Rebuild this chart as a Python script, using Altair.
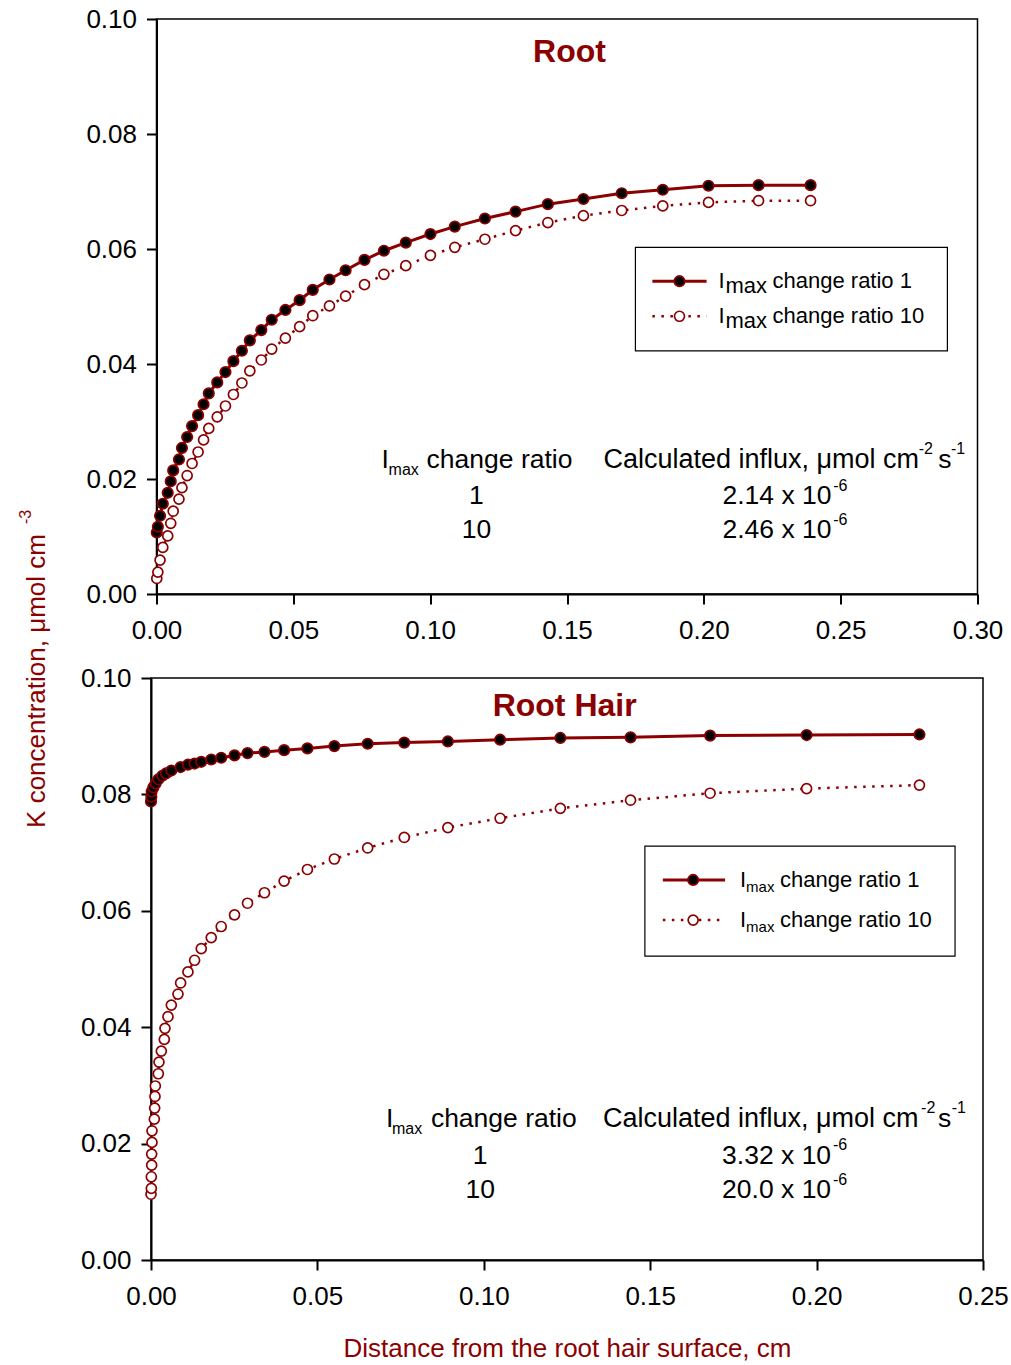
import altair as alt
import pandas as pd

RED = "#8B0000"
FONT = "Liberation Sans"

# ---------------- Root panel: distance (cm) vs K concentration (µmol cm-3)
root_dist = [0.0001, 0.0005, 0.0013, 0.0023, 0.0041, 0.0052, 0.0061, 0.0082, 0.0093, 0.0112,
             0.0130, 0.0152, 0.0172, 0.0191, 0.0222, 0.0252, 0.0281, 0.0312, 0.0341, 0.0383,
             0.0421, 0.0471, 0.0523, 0.0571, 0.0632, 0.0691, 0.0760, 0.0831, 0.0911, 0.1001,
             0.1090, 0.1200, 0.1312, 0.1430, 0.1560, 0.1700, 0.1850, 0.2017, 0.2200, 0.2390]
root_k_ratio1 = [0.0107, 0.0117, 0.0136, 0.0157, 0.0176, 0.0196, 0.0215, 0.0234, 0.0254, 0.0273,
                 0.0292, 0.0311, 0.0330, 0.0349, 0.0368, 0.0386, 0.0405, 0.0423, 0.0441, 0.0459,
                 0.0477, 0.0494, 0.0511, 0.0529, 0.0547, 0.0563, 0.0581, 0.0597, 0.0611, 0.0626,
                 0.0639, 0.0653, 0.0665, 0.0678, 0.0687, 0.0697, 0.0703, 0.0710, 0.0711, 0.0711]
root_k_ratio10 = [0.0027, 0.0038, 0.0059, 0.0081, 0.0101, 0.0123, 0.0144, 0.0165, 0.0185, 0.0206,
                  0.0227, 0.0247, 0.0268, 0.0288, 0.0308, 0.0327, 0.0347, 0.0367, 0.0388, 0.0407,
                  0.0426, 0.0445, 0.0465, 0.0484, 0.0501, 0.0518, 0.0538, 0.0556, 0.0571, 0.0589,
                  0.0603, 0.0617, 0.0632, 0.0646, 0.0658, 0.0667, 0.0675, 0.0681, 0.0684, 0.0684]

# ---------------- Root hair panel
hair_dist_ratio1 = [0.0000, 0.0001, 0.0002, 0.0007, 0.0014, 0.0022, 0.0034, 0.0045, 0.0061, 0.0089,
                    0.0111, 0.0131, 0.0151, 0.0181, 0.0211, 0.0251, 0.0290, 0.0341, 0.0400, 0.0470,
                    0.0551, 0.0651, 0.0761, 0.0892, 0.1049, 0.1230, 0.1441, 0.1680, 0.1970, 0.2309]
hair_k_ratio1 = [0.0788, 0.0796, 0.0805, 0.0812, 0.0819, 0.0826, 0.0832, 0.0836, 0.0841, 0.0847,
                 0.0851, 0.0853, 0.0856, 0.0860, 0.0863, 0.0867, 0.0871, 0.0873, 0.0876, 0.0879,
                 0.0883, 0.0887, 0.0889, 0.0891, 0.0894, 0.0897, 0.0898, 0.0901, 0.0902, 0.0903]
hair_dist_ratio10 = [0.0000, 0.0001, 0.0001, 0.0002, 0.0002, 0.0003, 0.0003, 0.0010, 0.0011, 0.0012,
                     0.0013, 0.0022, 0.0024, 0.0031, 0.0040, 0.0042, 0.0051, 0.0061, 0.0081, 0.0089,
                     0.0111, 0.0131, 0.0151, 0.0181, 0.0211, 0.0251, 0.0290, 0.0341, 0.0400, 0.0470,
                     0.0551, 0.0651, 0.0761, 0.0892, 0.1049, 0.1230, 0.1441, 0.1680, 0.1970, 0.2309]
hair_k_ratio10 = [0.0113, 0.0123, 0.0143, 0.0163, 0.0182, 0.0202, 0.0222, 0.0242, 0.0261, 0.0281,
                  0.0299, 0.0320, 0.0340, 0.0359, 0.0379, 0.0398, 0.0418, 0.0438, 0.0457, 0.0476,
                  0.0495, 0.0515, 0.0535, 0.0554, 0.0573, 0.0593, 0.0613, 0.0631, 0.0651, 0.0671,
                  0.0689, 0.0708, 0.0726, 0.0743, 0.0759, 0.0776, 0.0790, 0.0802, 0.0810, 0.0816]

root_x_ticks = [0.0, 0.05, 0.10, 0.15, 0.20, 0.25, 0.30]
hair_x_ticks = [0.0, 0.05, 0.10, 0.15, 0.20, 0.25]
k_ticks = [0.0, 0.02, 0.04, 0.06, 0.08, 0.10]

ratio_labels = ["1", "10"]
root_influx = ["2.14 x 10", "2.46 x 10"]
hair_influx = ["3.32 x 10", "20.0 x 10"]
influx_power = "-6"


def notes_table(col1_x, col2_x, head_y, row_y, influx, head, power_dx):
    """Text pieces of the in-plot influx table (with super/subscripts)."""
    i_x, max_x, cr_x, calc_x, sup2_x, s_x, sup1_x = head
    rows = [
        ("I", i_x, head_y, 26.5, "left"),
        ("max", max_x, head_y - 0.0017, 16, "left"),
        ("change ratio", cr_x, head_y, 26.5, "left"),
        ("Calculated influx, μmol cm", calc_x, head_y, 27, "left"),
        ("-2", sup2_x, head_y + 0.0019, 16, "left"),
        ("s", s_x, head_y, 26.5, "left"),
        ("-1", sup1_x, head_y + 0.0019, 16, "left"),
    ]
    for lab, val, y in zip(ratio_labels, influx, row_y):
        rows += [
            (lab, col1_x, y, 26.5, "center"),
            (val, col2_x, y, 26.5, "left"),
            (influx_power, col2_x + power_dx, y + 0.0018, 16, "left"),
        ]
    return pd.DataFrame(rows, columns=["t", "d", "k", "fs", "al"])


def panel(d1, k1, d10, k10, x_max, x_ticks, width, height, heading, heading_xy,
          legend, notes, x_title):
    xs = alt.Scale(domain=[0, x_max], nice=False, zero=False)
    ys = alt.Scale(domain=[0, 0.10], nice=False, zero=False)
    x_axis = alt.Axis(values=x_ticks, format=".2f", labelFlush=False, labelOverlap=False,
                      labelPadding=13,
                      title=x_title if x_title else None, titleColor=RED, titleFontSize=26,
                      titleFontWeight="normal", titlePadding=26, titleFont=FONT)
    y_axis = alt.Axis(values=k_ticks, format=".2f", labelFlush=False, labelOverlap=False,
                      labelPadding=10, title=None)
    X = alt.X("d:Q", scale=xs, axis=x_axis)
    Y = alt.Y("k:Q", scale=ys, axis=y_axis)

    s1 = pd.DataFrame({"d": d1, "k": k1, "i": range(len(d1))})
    s10 = pd.DataFrame({"d": d10, "k": k10, "i": range(len(d10))})

    line1 = alt.Chart(s1).mark_line(color=RED, strokeWidth=3).encode(X, Y, order="i:Q")
    line10 = alt.Chart(s10).mark_line(color=RED, strokeWidth=2.5, strokeDash=[2.5, 6.5]).encode(
        X, Y, order="i:Q")
    pts10 = alt.Chart(s10).mark_point(shape="circle", filled=True, fill="white", stroke=RED,
                                      strokeWidth=1.7, size=100, opacity=1).encode(X, Y)
    pts1 = alt.Chart(s1).mark_point(shape="circle", filled=True, fill="black", stroke=RED,
                                    strokeWidth=1.7, size=110, opacity=1).encode(X, Y)

    head = alt.Chart(pd.DataFrame({"d": [heading_xy[0]], "k": [heading_xy[1]], "t": [heading]})).mark_text(
        font=FONT, fontSize=32, fontWeight="bold", color=RED, align="center", baseline="middle"
    ).encode(X, Y, text="t:N")

    # legend box with line samples and labels
    bx0, bx1, by0, by1, ey, sx0, sx1, mx, lab_pieces = legend
    box = alt.Chart(pd.DataFrame({"d": [bx0], "d2": [bx1], "k": [by0], "k2": [by1]})).mark_rect(
        fill="white", stroke="black", strokeWidth=1.2
    ).encode(X, Y, x2="d2:Q", y2="k2:Q")
    samp1 = alt.Chart(pd.DataFrame({"d": [sx0], "d2": [sx1], "k": [ey[0]]})).mark_rule(
        color=RED, strokeWidth=3).encode(X, Y, x2="d2:Q")
    samp10 = alt.Chart(pd.DataFrame({"d": [sx0], "d2": [sx1], "k": [ey[1]]})).mark_rule(
        color=RED, strokeWidth=2.5, strokeDash=[2.5, 6.5]).encode(X, Y, x2="d2:Q")
    mk1 = alt.Chart(pd.DataFrame({"d": [mx], "k": [ey[0]]})).mark_point(
        shape="circle", filled=True, fill="black", stroke=RED, strokeWidth=1.7, size=110, opacity=1
    ).encode(X, Y)
    mk10 = alt.Chart(pd.DataFrame({"d": [mx], "k": [ey[1]]})).mark_point(
        shape="circle", filled=True, fill="white", stroke=RED, strokeWidth=1.7, size=100, opacity=1
    ).encode(X, Y)
    leg_rows = []
    for y, last in zip(ey, ratio_labels):
        for t, x, dy, fs in lab_pieces:
            leg_rows.append((t if t != "ratio" else "change ratio " + last, x, y + dy, fs))
    leg_df = pd.DataFrame(leg_rows, columns=["t", "d", "k", "fs"])
    leg_text = alt.Chart(leg_df).mark_text(font=FONT, color="black", align="left",
                                           baseline="middle").encode(
        X, Y, text="t:N", size=alt.Size("fs:Q", scale=None, legend=None))

    note_layers = []
    for al in ["left", "center"]:
        sub = notes[notes["al"] == al]
        note_layers.append(
            alt.Chart(sub).mark_text(font=FONT, color="black", align=al, baseline="middle").encode(
                X, Y, text="t:N", size=alt.Size("fs:Q", scale=None, legend=None))
        )

    return alt.layer(line10, line1, pts10, pts1, head, box, samp1, samp10, mk1, mk10, leg_text,
                     *note_layers).properties(width=width, height=height)


root_notes = notes_table(0.1169, 0.2068, 0.0233, [0.0170, 0.0111], root_influx,
                         (0.0822, 0.0848, 0.0987, 0.1633, 0.2785, 0.2857, 0.2903), 0.0405)
hair_notes = notes_table(0.0989, 0.1716, 0.0242, [0.0179, 0.0120], hair_influx,
                         (0.0706, 0.0724, 0.0841, 0.1358, 0.2314, 0.2365, 0.2406), 0.0333)

root_legend = (0.1750, 0.2890, 0.0423, 0.0603, [0.0544, 0.0483], 0.1812, 0.2010, 0.1911,
               [("I", 0.2054, 0.0, 22), ("max", 0.2079, -0.0008, 22), ("ratio", 0.2251, 0.0, 22)])
hair_legend = (0.1484, 0.2416, 0.0522, 0.0711, [0.0653, 0.0584], 0.1538, 0.1725, 0.1629,
               [("I", 0.1770, 0.0, 22), ("max", 0.1788, -0.0012, 15), ("ratio", 0.1890, 0.0, 22)])

top = panel(root_dist, root_k_ratio1, root_dist, root_k_ratio10, 0.30, root_x_ticks, 821, 575,
            "Root", (0.1509, 0.0943), root_legend, root_notes, None)

y_title = alt.Chart(pd.DataFrame({"t": ["K concentration, μmol cm"]})).mark_text(
    font=FONT, fontSize=26, color=RED, angle=270, align="center", baseline="middle"
).encode(text="t:N", x=alt.value(-114), y=alt.value(3))
y_title_sup = alt.Chart(pd.DataFrame({"t": ["-3"]})).mark_text(
    font=FONT, fontSize=16, color=RED, angle=270, align="center", baseline="middle"
).encode(text="t:N", x=alt.value(-125), y=alt.value(-161))

bottom = alt.layer(
    panel(hair_dist_ratio1, hair_k_ratio1, hair_dist_ratio10, hair_k_ratio10, 0.25, hair_x_ticks,
          832, 582, "Root Hair", (0.1243, 0.0952), hair_legend, hair_notes,
          "Distance from the root hair surface, cm"),
    y_title, y_title_sup,
)

chart = alt.vconcat(top, bottom, spacing=84, center=True, bounds="flush").properties(
    padding={"left": 17, "top": 5, "right": 0, "bottom": 2}
).configure(font=FONT).configure_view(
    stroke="black", strokeWidth=1.5
).configure_axis(
    domainColor="black", domainWidth=2, tickColor="black", tickWidth=2, tickSize=10,
    labelFontSize=26, labelColor="black", labelFont=FONT, grid=False
)

chart.save("out.html", embed_options={"renderer": "svg", "actions": False})
